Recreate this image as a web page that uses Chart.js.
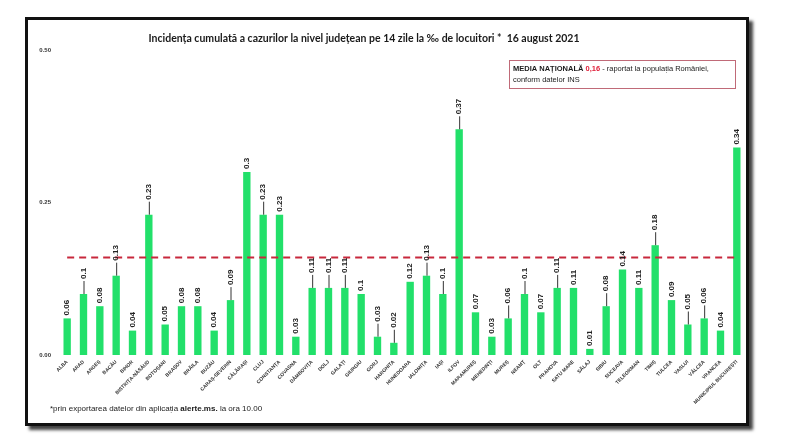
<!DOCTYPE html>
<html>
<head>
<meta charset="utf-8">
<script src="https://cdn.jsdelivr.net/npm/chart.js@4"></script>
<style>
  html,body{margin:0;padding:0;background:#fff;}
  #frame{position:absolute;left:25px;top:17px;width:718px;height:403px;border:3px solid #111;box-shadow:4px 4px 3px #444;background:#fff;}
  #wrap{position:absolute;left:0;top:0;width:800px;height:434px;}
</style>
</head>
<body>
<div id="frame"></div>
<div id="wrap"><canvas id="c" width="800" height="434"></canvas></div>
<script>
const categories = ["ALBA","ARAD","ARGEȘ","BACĂU","BIHOR","BISTRIȚA-NĂSĂUD","BOTOȘANI","BRAȘOV","BRĂILA","BUZĂU","CARAȘ-SEVERIN","CĂLĂRAȘI","CLUJ","CONSTANȚA","COVASNA","DÂMBOVIȚA","DOLJ","GALAȚI","GIURGIU","GORJ","HARGHITA","HUNEDOARA","IALOMIȚA","IAȘI","ILFOV","MARAMUREȘ","MEHEDINȚI","MUREȘ","NEAMȚ","OLT","PRAHOVA","SATU MARE","SĂLAJ","SIBIU","SUCEAVA","TELEORMAN","TIMIȘ","TULCEA","VASLUI","VÂLCEA","VRANCEA","MUNICIPIUL BUCUREȘTI"];
const incidence = [0.06,0.1,0.08,0.13,0.04,0.23,0.05,0.08,0.08,0.04,0.09,0.3,0.23,0.23,0.03,0.11,0.11,0.11,0.1,0.03,0.02,0.12,0.13,0.1,0.37,0.07,0.03,0.06,0.1,0.07,0.11,0.11,0.01,0.08,0.14,0.11,0.18,0.09,0.05,0.06,0.04,0.34];
const nationalAverage = 0.16;
const yTicks = [0, 0.25, 0.5];
const leaderLabels = ["ARAD","BACĂU","BISTRIȚA-NĂSĂUD","CARAȘ-SEVERIN","CLUJ","DÂMBOVIȚA","DOLJ","GALAȚI","GORJ","HARGHITA","IALOMIȚA","IAȘI","ILFOV","MUREȘ","NEAMȚ","PRAHOVA","SIBIU","TIMIȘ","VASLUI","VÂLCEA"];

const titleText = "Incidența cumulată a cazurilor la nivel județean pe 14 zile la ‰ de locuitori *  16 august 2021";

const decor = {
  id:'decor',
  afterDatasetsDraw(chart){
    const ctx = chart.ctx;
    const meta = chart.getDatasetMeta(1);
    ctx.save();
    ctx.fillStyle = '#222';
    ctx.strokeStyle = '#333';
    ctx.lineWidth = 1;
    ctx.font = 'bold 8px "Liberation Sans Narrow", "Liberation Sans", sans-serif';
    meta.data.forEach((bar, i) => {
      const x = bar.x, y = bar.y;
      let start = y - 3;
      if (leaderLabels.includes(categories[i])) {
        ctx.beginPath();
        ctx.moveTo(x + 0.5, y);
        ctx.lineTo(x + 0.5, y - 13);
        ctx.stroke();
        start = y - 15;
      }
      ctx.save();
      ctx.translate(x, start);
      ctx.rotate(-Math.PI/2);
      ctx.textAlign = 'left';
      ctx.textBaseline = 'middle';
      ctx.fillText(String(incidence[i]), 0, 0);
      ctx.restore();
    });
    ctx.restore();
  },
  afterDraw(chart){
    const ctx = chart.ctx;
    ctx.save();
    // title
    ctx.fillStyle = '#1a1a1a';
    ctx.font = 'bold 10.5px Lato, "Liberation Sans", sans-serif';
    ctx.textAlign = 'center';
    ctx.textBaseline = 'middle';
    ctx.fillText(titleText, 364, 39);
    // legend box
    ctx.strokeStyle = '#c06a78';
    ctx.lineWidth = 1;
    ctx.strokeRect(509.5, 60.5, 226, 28);
    ctx.textAlign = 'left';
    ctx.textBaseline = 'middle';
    let x = 513;
    ctx.font = 'bold 7.5px "Liberation Sans", sans-serif';
    ctx.fillStyle = '#1a1a1a';
    const p1 = 'MEDIA NAȚIONALĂ ';
    ctx.fillText(p1, x, 69); x += ctx.measureText(p1).width;
    ctx.fillStyle = '#e0203a';
    const p2 = String(nationalAverage).replace('.', ',');
    ctx.fillText(p2, x, 69); x += ctx.measureText(p2).width;
    ctx.font = '7.5px "Liberation Sans", sans-serif';
    ctx.fillStyle = '#1a1a1a';
    ctx.fillText(' - raportat la populația României,', x, 69);
    ctx.fillText('conform datelor INS', 513, 80);
    // footnote
    x = 50;
    ctx.font = '8px "Liberation Sans", sans-serif';
    const f1 = '*prin exportarea datelor din aplicația ';
    ctx.fillText(f1, x, 409); x += ctx.measureText(f1).width;
    ctx.font = 'bold 8px "Liberation Sans", sans-serif';
    const f2 = 'alerte.ms.';
    ctx.fillText(f2, x, 409); x += ctx.measureText(f2).width;
    ctx.font = '8px "Liberation Sans", sans-serif';
    ctx.fillText(' la ora 10.00', x, 409);
    ctx.restore();
  }
};

new Chart(document.getElementById('c'), {
  data: {
    labels: categories,
    datasets: [
      {
        type: 'line',
        data: categories.map(() => nationalAverage),
        borderColor: '#c8283c',
        borderWidth: 2,
        borderDash: [7, 5],
        pointRadius: 0,
        fill: false,
        order: 0
      },
      {
        type: 'bar',
        data: incidence,
        backgroundColor: '#22e06a',
        borderWidth: 0,
        barPercentage: 0.45,
        categoryPercentage: 1,
        order: 1
      }
    ]
  },
  options: {
    responsive: false,
    animation: false,
    devicePixelRatio: 1,
    layout: { padding: { top: 50, right: 55, left: 0, bottom: 0 } },
    plugins: { legend: { display: false }, tooltip: { enabled: false }, title: { display: false } },
    scales: {
      x: {
        offset: true,
        grid: { display: false, drawTicks: false },
        border: { display: false },
        ticks: {
          autoSkip: false,
          minRotation: 45,
          maxRotation: 45,
          padding: 4,
          color: '#333',
          font: { size: 5, weight: 'bold', family: '"Liberation Sans", sans-serif' }
        },
        afterFit(s){ s.height = 79; }
      },
      y: {
        min: 0,
        max: 0.5,
        afterBuildTicks(s){ s.ticks = yTicks.map(v => ({ value: v })); },
        grid: { display: false, drawTicks: false },
        border: { display: false },
        ticks: {
          padding: 8,
          color: '#333',
          font: { size: 6, weight: 'bold', family: '"Liberation Sans", sans-serif' },
          callback: v => v.toFixed(2)
        },
        afterFit(s){ s.width = 59; }
      }
    }
  },
  plugins: [decor]
});
</script>
</body>
</html>
